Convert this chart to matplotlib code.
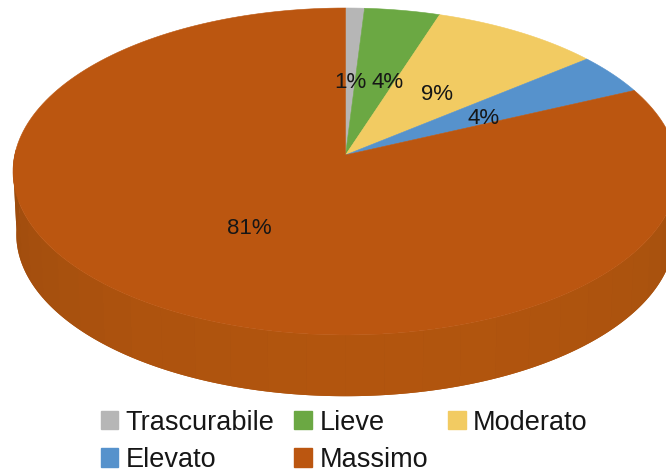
import numpy as np
import matplotlib
matplotlib.use('Agg')
import matplotlib.pyplot as plt
from matplotlib.patches import Patch

plt.rcParams['font.family'] = ['Liberation Sans', 'DejaVu Sans']

categories = ['Trascurabile', 'Lieve', 'Moderato', 'Elevato', 'Massimo']
values = [1, 4, 9, 4, 81]
labels = ['1%', '4%', '9%', '4%', '81%']
colors = ['#B6B6B6', '#6BA843', '#F2CB62', '#5692CC', '#BB5610']

# pixel layout of the disc
APEX_X, APEX_Y = 345.5, 155
REACH_UP, REACH_DOWN = 147, 180
HALF_WIDTH = 332.5
THICKNESS = 63
label_xy = [(350, 82), (388, 82), (437, 94), (484, 118), (249, 228)]


def project(theta, drop=0.0, shrink=1.0):
    """Map clockwise-from-top angle on the unit disc to the tilted view."""
    u, v = np.sin(theta), np.cos(theta)
    k = (REACH_DOWN - REACH_UP) / (REACH_DOWN + REACH_UP)
    a = REACH_UP * (1 + k)
    b = HALF_WIDTH * np.sqrt(1 - k * k)
    w = 1 + k * v
    return APEX_X + shrink * b * u / w, APEX_Y - shrink * a * v / w + drop


def wall_outline(ts):
    x_top, y_top = project(ts)
    x_low, y_low = project(ts[::-1], drop=THICKNESS, shrink=0.99)
    return np.r_[x_top, x_low], np.r_[y_top, y_low]


fig = plt.figure(figsize=(6.66, 4.73), dpi=100)
ax = fig.add_axes([0, 0, 1, 1])
ax.set_xlim(0, 666)
ax.set_ylim(473, 0)
ax.axis('off')

# side wall, only the front half shows; the base fill hides strip seams
wall_angles = np.radians(np.linspace(88, 272, 31))
shade_pos = np.radians([88, 120, 150, 180, 215, 245, 272])
shade_r = [0.63, 0.67, 0.69, 0.70, 0.68, 0.645, 0.61]
shade_g = [0.305, 0.325, 0.33, 0.335, 0.325, 0.31, 0.295]
shade_b = [0.05, 0.055, 0.055, 0.055, 0.055, 0.055, 0.05]
wall_x, wall_y = wall_outline(np.linspace(wall_angles[0], wall_angles[-1], 300))
ax.fill(wall_x, wall_y, color=(0.665, 0.32, 0.055), lw=0)
for t0, t1 in zip(wall_angles[:-1], wall_angles[1:]):
    mid = (t0 + t1) / 2
    shade = (np.interp(mid, shade_pos, shade_r),
             np.interp(mid, shade_pos, shade_g),
             np.interp(mid, shade_pos, shade_b))
    x, y = wall_outline(np.linspace(t0, t1, 12))
    ax.fill(x, y, color=shade, lw=0)

# top face
edges = np.cumsum([0] + values) / sum(values) * 2 * np.pi
for start, end, color in zip(edges[:-1], edges[1:], colors):
    ts = np.linspace(start, end, 200)
    x, y = project(ts)
    ax.fill(np.r_[APEX_X, x], np.r_[APEX_Y, y], color=color, lw=0.4)

for text, (x, y) in zip(labels, label_xy):
    ax.text(x, y, text, fontsize=16, color='#161616', ha='center', va='center')

order = [0, 3, 1, 4, 2]
handles = [Patch(color=colors[i], label=categories[i]) for i in order]
fig.legend(handles=handles, ncol=3, frameon=False, fontsize=19.5,
           loc='lower left', bbox_to_anchor=(100.5 / 666, 0.0),
           borderpad=0, borderaxespad=0, handlelength=0.65, handleheight=0.65,
           handletextpad=0.27, columnspacing=0.74, labelspacing=0.42,
           labelcolor='#161616')

fig.savefig('out.png', dpi=100)
